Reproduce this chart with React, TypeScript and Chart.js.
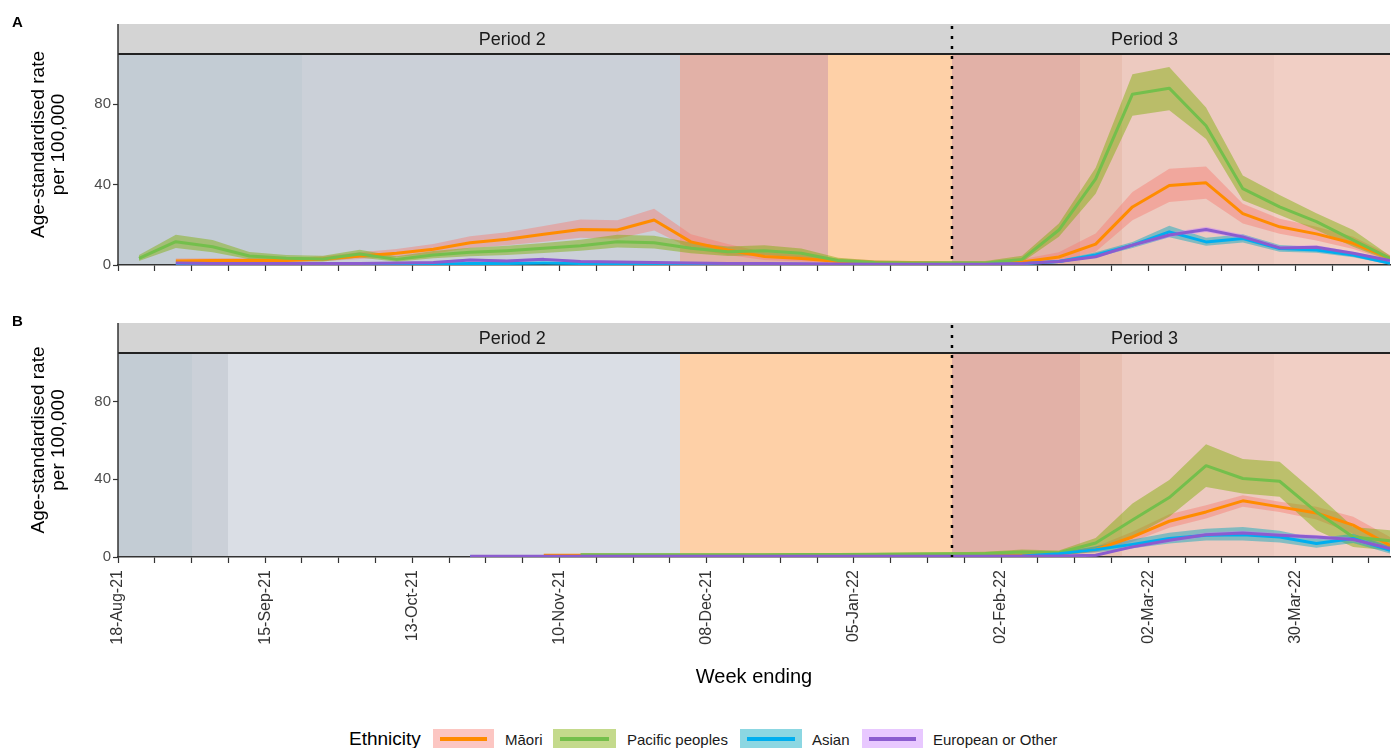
import React, { useEffect, useRef } from 'react';
import { Chart, registerables } from 'chart.js';

Chart.register(...registerables);

const FONT = "'Liberation Sans', Arial, Helvetica, sans-serif";
Chart.defaults.font.family = FONT;

// ---------- time axis ----------
const ORIGIN = '2021-08-18';
const LAST_WEEK = '2022-04-17';
const WEEK_ENDING = [
  '2021-08-22', '2021-08-29', '2021-09-05', '2021-09-12', '2021-09-19', '2021-09-26',
  '2021-10-03', '2021-10-10', '2021-10-17', '2021-10-24', '2021-10-31',
  '2021-11-07', '2021-11-14', '2021-11-21', '2021-11-28',
  '2021-12-05', '2021-12-12', '2021-12-19', '2021-12-26',
  '2022-01-02', '2022-01-09', '2022-01-16', '2022-01-23', '2022-01-30',
  '2022-02-06', '2022-02-13', '2022-02-20', '2022-02-27',
  '2022-03-06', '2022-03-13', '2022-03-20', '2022-03-27',
  '2022-04-03', '2022-04-10', '2022-04-17',
];
const TICK_LABELS = ['18-Aug-21', '15-Sep-21', '13-Oct-21', '10-Nov-21', '08-Dec-21', '05-Jan-22', '02-Feb-22', '02-Mar-22', '30-Mar-22'];
const Y_TICKS = [0, 40, 80];
const Y_MAX = 105;

// ---------- Panel A (rates) ----------
const maoriA = [null, 2.0, 2.2, 2.3, 2.2, 3.0, 4.5, 5.8, 7.8, 11.1, 12.8, 15.3, 17.7, 17.4, 22.4, 11.5, 7.5, 4.2, 3.2, 1.8, 1.3, 1.0, 0.8, 0.8, 1.5, 4.0, 10.4, 28.9, 39.6, 40.9, 25.6, 19.0, 15.5, 10.8, 3.3];
const maoriAHi = [null, 3.2, 3.4, 3.5, 3.4, 4.4, 6.3, 8.0, 10.4, 14.3, 16.3, 19.4, 22.6, 22.3, 28.0, 15.3, 10.4, 6.4, 5.0, 3.2, 2.4, 2.0, 1.7, 1.7, 2.8, 6.4, 15.7, 36.3, 47.9, 49.0, 30.5, 23.0, 19.0, 14.0, 5.0];
const maoriALo = [null, 1.1, 1.3, 1.4, 1.3, 1.9, 3.0, 4.0, 5.6, 8.4, 9.8, 11.6, 13.5, 13.1, 17.2, 8.2, 5.0, 2.5, 1.8, 0.8, 0.6, 0.4, 0.3, 0.3, 0.7, 2.2, 6.6, 22.3, 31.3, 33.0, 20.6, 15.5, 12.2, 8.0, 1.9];

const pacificA = [3.3, 11.6, 9.1, 4.5, 3.3, 3.0, 5.5, 2.8, 5.0, 6.3, 7.1, 8.3, 9.6, 11.6, 11.1, 8.3, 6.6, 7.1, 5.8, 2.2, 1.2, 1.0, 1.0, 1.0, 2.8, 17.4, 42.9, 85.0, 88.0, 69.3, 38.0, 28.9, 21.6, 12.4, 3.3];
const pacificAHi = [5.0, 15.0, 12.4, 6.5, 5.0, 4.6, 7.6, 4.3, 7.0, 8.6, 9.6, 11.0, 12.6, 15.0, 14.5, 11.2, 9.2, 9.8, 8.2, 3.6, 2.3, 2.0, 2.0, 2.0, 4.6, 20.7, 48.4, 94.9, 98.5, 78.4, 44.6, 34.8, 25.7, 17.4, 4.6];
const pacificALo = [2.0, 8.5, 6.3, 2.8, 1.9, 1.7, 3.7, 1.6, 3.3, 4.3, 5.0, 6.0, 7.1, 8.7, 8.2, 5.9, 4.5, 4.8, 3.8, 1.1, 0.5, 0.3, 0.3, 0.3, 1.4, 14.1, 35.5, 74.3, 77.0, 62.7, 32.2, 24.9, 17.4, 9.1, 2.0];

const asianA = [null, 0.3, 0.3, 0.3, 0.3, 0.3, 0.4, 0.4, 0.5, 0.7, 0.8, 1.0, 0.8, 0.6, 0.6, 0.5, 0.5, 0.4, 0.4, 0.3, 0.3, 0.3, 0.3, 0.3, 0.6, 1.7, 5.0, 9.9, 16.5, 11.5, 13.2, 8.2, 7.5, 5.0, 0.8];
const asianAHi = [null, 0.6, 0.6, 0.6, 0.6, 0.6, 0.7, 0.7, 0.9, 1.1, 1.2, 1.5, 1.2, 1.0, 1.0, 0.9, 0.9, 0.7, 0.7, 0.6, 0.6, 0.6, 0.6, 0.6, 1.0, 2.5, 6.3, 11.5, 19.5, 13.5, 15.3, 10.0, 9.0, 6.3, 1.5];
const asianALo = [null, 0.1, 0.1, 0.1, 0.1, 0.1, 0.2, 0.2, 0.2, 0.4, 0.5, 0.6, 0.5, 0.3, 0.3, 0.2, 0.2, 0.2, 0.2, 0.1, 0.1, 0.1, 0.1, 0.1, 0.3, 1.0, 3.8, 8.4, 13.8, 9.6, 11.2, 6.6, 6.1, 3.8, 0.3];

const europeanA = [null, 1.0, 0.8, 0.8, 0.7, 0.8, 0.8, 1.0, 1.3, 2.5, 2.0, 2.8, 1.8, 1.5, 1.2, 1.0, 0.8, 0.7, 0.6, 0.5, 0.4, 0.4, 0.4, 0.4, 0.8, 1.7, 4.1, 9.9, 14.9, 17.7, 14.0, 8.5, 8.8, 5.8, 2.2];
const europeanAHi = [null, 1.4, 1.1, 1.1, 1.0, 1.1, 1.1, 1.4, 1.8, 3.2, 2.6, 3.5, 2.4, 2.0, 1.6, 1.4, 1.1, 1.0, 0.9, 0.8, 0.6, 0.6, 0.6, 0.6, 1.1, 2.2, 4.7, 10.8, 16.0, 19.0, 15.2, 9.5, 9.8, 6.6, 2.8];
const europeanALo = [null, 0.6, 0.5, 0.5, 0.4, 0.5, 0.5, 0.6, 0.8, 1.8, 1.4, 2.1, 1.2, 1.0, 0.8, 0.6, 0.5, 0.4, 0.3, 0.2, 0.2, 0.2, 0.2, 0.2, 0.5, 1.2, 3.5, 9.0, 13.8, 16.4, 12.8, 7.5, 7.8, 5.0, 1.6];

// ---------- Panel B (rates) ----------
const maoriB = [null, null, null, null, null, null, null, null, null, null, null, 0.9, 0.9, 0.8, 0.8, 0.7, 0.7, 0.6, 0.8, 1.3, 0.6, 0.6, 0.7, 0.7, 0.9, 1.5, 3.8, 10.3, 18.4, 23.2, 28.9, 25.8, 22.7, 16.4, 6.0];
const maoriBHi = [null, null, null, null, null, null, null, null, null, null, null, 1.3, 1.3, 1.2, 1.2, 1.1, 1.1, 1.0, 1.2, 1.8, 1.0, 1.0, 1.1, 1.1, 1.4, 2.2, 5.3, 13.0, 22.0, 26.7, 31.8, 28.4, 25.8, 20.7, 10.3];
const maoriBLo = [null, null, null, null, null, null, null, null, null, null, null, 0.5, 0.5, 0.4, 0.4, 0.4, 0.4, 0.3, 0.4, 0.8, 0.3, 0.3, 0.4, 0.4, 0.5, 0.9, 2.5, 7.8, 15.1, 19.8, 25.8, 23.2, 19.3, 12.0, 2.6];

const pacificB = [null, null, null, null, null, null, null, null, null, null, null, null, 1.2, 1.2, 1.2, 1.2, 1.2, 1.2, 1.3, 1.3, 1.4, 1.5, 1.7, 1.8, 2.6, 2.2, 7.2, 19.0, 30.6, 47.0, 40.4, 39.0, 23.2, 10.3, 8.3];
const pacificBHi = [null, null, null, null, null, null, null, null, null, null, null, null, 1.9, 1.9, 1.9, 1.9, 1.9, 1.9, 2.0, 2.0, 2.1, 2.3, 2.5, 2.7, 3.8, 3.4, 9.8, 27.5, 39.6, 58.0, 50.4, 49.0, 32.7, 15.5, 13.8];
const pacificBLo = [null, null, null, null, null, null, null, null, null, null, null, null, 0.6, 0.6, 0.6, 0.6, 0.6, 0.6, 0.7, 0.7, 0.8, 0.8, 1.0, 1.1, 1.5, 1.2, 4.5, 10.3, 20.7, 36.0, 32.7, 31.0, 13.8, 5.2, 3.4];

const asianB = [null, null, null, null, null, null, null, null, null, 0.3, 0.3, 0.3, 0.3, 0.3, 0.3, 0.3, 0.3, 0.3, 0.3, 0.3, 0.3, 0.3, 0.3, 0.3, 0.5, 1.7, 3.8, 6.5, 9.5, 11.2, 11.5, 10.3, 6.9, 9.5, 3.4];
const asianBHi = [null, null, null, null, null, null, null, null, null, 0.5, 0.5, 0.5, 0.5, 0.5, 0.5, 0.5, 0.5, 0.5, 0.5, 0.5, 0.5, 0.5, 0.5, 0.5, 0.8, 2.5, 5.5, 9.0, 12.5, 14.5, 15.5, 13.5, 9.5, 12.0, 5.5];
const asianBLo = [null, null, null, null, null, null, null, null, null, 0.1, 0.1, 0.1, 0.1, 0.1, 0.1, 0.1, 0.1, 0.1, 0.1, 0.1, 0.1, 0.1, 0.1, 0.1, 0.3, 1.0, 2.5, 4.5, 7.0, 8.5, 8.5, 7.5, 4.8, 7.2, 1.8];

const europeanB = [null, null, null, null, null, null, null, null, null, 0.4, 0.4, 0.4, 0.4, 0.4, 0.4, 0.4, 0.4, 0.4, 0.4, 0.4, 0.4, 0.4, 0.4, 0.4, 0.4, 0.5, 0.9, 5.2, 8.6, 11.5, 12.4, 11.2, 10.3, 9.0, 4.3];
const europeanBHi = [null, null, null, null, null, null, null, null, null, 0.6, 0.6, 0.6, 0.6, 0.6, 0.6, 0.6, 0.6, 0.6, 0.6, 0.6, 0.6, 0.6, 0.6, 0.6, 0.6, 0.8, 1.3, 6.0, 9.6, 12.6, 13.5, 12.2, 11.3, 10.0, 5.0];
const europeanBLo = [null, null, null, null, null, null, null, null, null, 0.2, 0.2, 0.2, 0.2, 0.2, 0.2, 0.2, 0.2, 0.2, 0.2, 0.2, 0.2, 0.2, 0.2, 0.2, 0.2, 0.3, 0.6, 4.4, 7.6, 10.4, 11.3, 10.2, 9.3, 8.0, 3.6];

// ---------- restriction settings (shaded background) ----------
const LEVELS_A_START = ['2021-08-18', '2021-09-22', '2021-12-03', '2021-12-31', '2022-01-23T16', '2022-02-17', '2022-02-25', '2022-03-26'];
const LEVELS_A_NAME = ['Level 4', 'Level 3', 'Red', 'Orange', 'Red', 'Red phase 2', 'Red phase 3', 'Red phase 3b'];
const LEVELS_B_START = ['2021-08-18', '2021-09-01', '2021-09-08', '2021-12-03', '2022-01-23T16', '2022-02-17', '2022-02-25', '2022-03-26'];
const LEVELS_B_NAME = ['Level 4', 'Level 3', 'Level 2', 'Orange', 'Red', 'Red phase 2', 'Red phase 3', 'Red phase 3b'];
const LEVEL_COLOURS: Record<string, string> = {
  'Level 4': '#c3ccd4',
  'Level 3': '#cbd0d8',
  'Level 2': '#dadee5',
  'Red': '#e2b1a7',
  'Orange': '#fed0a7',
  'Red phase 2': '#e8bfb1',
  'Red phase 3': '#edcac0',
  'Red phase 3b': '#f1cfc5',
};
const PERIOD_LABELS = ['Period 2', 'Period 3'];
const PERIOD_CENTRES = ['2021-11-01', '2022-03-01T07'];
const PERIOD_DIVIDER = '2022-01-23T16';

// ---------- series styling ----------
const SERIES_NAMES = ['Māori', 'Pacific peoples', 'Asian', 'European or Other'];
const LINE_COLOURS = ['#FF8C00', '#74BF4C', '#00AEEF', '#8B5CCF'];
const BAND_COLOURS = ['rgba(248,118,109,0.42)', 'rgba(124,174,0,0.45)', 'rgba(0,166,190,0.45)', 'rgba(199,124,255,0.42)'];

function dayOf(s: string) {
  const [d, h] = s.split('T');
  return (Date.parse(d + 'T00:00:00Z') - Date.parse(ORIGIN + 'T00:00:00Z')) / 86400000 + (h ? Number(h) / 24 : 0);
}
const X_MAX = dayOf(LAST_WEEK);
const TICK_DAYS = WEEK_ENDING.map((_, i) => i * 7);
const STRIP_H = 30;

function buildDatasets(mids: any[], los: any[], his: any[]) {
  const pts = (arr: any[]) => arr.map((y, k) => ({ x: dayOf(WEEK_ENDING[k]), y }));
  const ds: any[] = [];
  mids.forEach((_, i) => {
    const idx = ds.length;
    ds.push({
      label: SERIES_NAMES[i] + ' upper', data: pts(his[i]), borderWidth: 0, borderColor: 'rgba(0,0,0,0)',
      backgroundColor: BAND_COLOURS[i], pointRadius: 0, fill: { target: idx + 1 }, order: 8 - i,
    });
    ds.push({
      label: SERIES_NAMES[i] + ' lower', data: pts(los[i]), borderWidth: 0, borderColor: 'rgba(0,0,0,0)',
      backgroundColor: 'rgba(0,0,0,0)', pointRadius: 0, fill: false, order: 8 - i,
    });
  });
  mids.forEach((m, i) => {
    ds.push({
      label: SERIES_NAMES[i], data: pts(m), borderColor: LINE_COLOURS[i], borderWidth: 3,
      pointRadius: 0, fill: false, borderJoinStyle: 'round', order: 4 - i,
    });
  });
  return ds;
}

const PANEL_A = {
  letter: 'A', canvasTop: 0, canvasHeight: 280, chartTop: 54, xAxisHeight: 15, showXLabels: false,
  levelStarts: LEVELS_A_START, levelNames: LEVELS_A_NAME,
  mids: [maoriA, pacificA, asianA, europeanA],
  los: [maoriALo, pacificALo, asianALo, europeanALo],
  his: [maoriAHi, pacificAHi, asianAHi, europeanAHi],
};
const PANEL_B = {
  letter: 'B', canvasTop: 290, canvasHeight: 420, chartTop: 63, xAxisHeight: 153, showXLabels: true,
  levelStarts: LEVELS_B_START, levelNames: LEVELS_B_NAME,
  mids: [maoriB, pacificB, asianB, europeanB],
  los: [maoriBLo, pacificBLo, asianBLo, europeanBLo],
  his: [maoriBHi, pacificBHi, asianBHi, europeanBHi],
};

function decorPlugin(spec: any) {
  return {
    id: 'decor' + spec.letter,
    beforeDraw(chart: any) {
      const { ctx, chartArea: ca } = chart;
      const x = chart.scales.x;
      ctx.save();
      spec.levelStarts.forEach((s: string, i: number) => {
        const from = dayOf(s);
        const to = i + 1 < spec.levelStarts.length ? dayOf(spec.levelStarts[i + 1]) : X_MAX;
        const x0 = Math.round(x.getPixelForValue(from));
        const x1 = Math.round(x.getPixelForValue(to));
        ctx.fillStyle = LEVEL_COLOURS[spec.levelNames[i]];
        ctx.fillRect(x0, ca.top, x1 - x0, ca.bottom - ca.top);
      });
      ctx.fillStyle = '#d4d4d4';
      ctx.fillRect(ca.left, ca.top - STRIP_H, ca.right - ca.left, STRIP_H);
      ctx.fillStyle = '#1a1a1a';
      ctx.font = `18px ${FONT}`;
      ctx.textAlign = 'center';
      ctx.textBaseline = 'alphabetic';
      PERIOD_LABELS.forEach((t, i) => {
        ctx.fillText(t, x.getPixelForValue(dayOf(PERIOD_CENTRES[i])), ca.top - STRIP_H + 20.5);
      });
      ctx.restore();
    },
    afterDraw(chart: any) {
      const { ctx, chartArea: ca } = chart;
      const x = chart.scales.x;
      ctx.save();
      ctx.strokeStyle = '#222';
      ctx.lineWidth = 2;
      ctx.beginPath();
      ctx.moveTo(ca.left, ca.top);
      ctx.lineTo(ca.right, ca.top);
      ctx.stroke();
      ctx.strokeStyle = '#333';
      ctx.lineWidth = 1.5;
      ctx.beginPath();
      ctx.moveTo(ca.left, ca.top - STRIP_H);
      ctx.lineTo(ca.left, ca.bottom + 0.75);
      ctx.stroke();
      const xd = x.getPixelForValue(dayOf(PERIOD_DIVIDER));
      ctx.strokeStyle = '#000';
      ctx.lineWidth = 2.5;
      ctx.setLineDash([3, 7]);
      ctx.beginPath();
      ctx.moveTo(xd, ca.top - STRIP_H + 2);
      ctx.lineTo(xd, ca.bottom);
      ctx.stroke();
      ctx.setLineDash([]);
      const yc = (ca.top - STRIP_H + ca.bottom) / 2;
      ctx.fillStyle = '#000';
      ctx.font = `19px ${FONT}`;
      ctx.textAlign = 'center';
      ctx.textBaseline = 'alphabetic';
      [['Age-standardised rate', 43.5], ['per 100,000', 63.5]].forEach(([t, bx]: any) => {
        ctx.save();
        ctx.translate(bx, yc);
        ctx.rotate(-Math.PI / 2);
        ctx.fillText(t, 0, 0);
        ctx.restore();
      });
      ctx.font = `bold 15px ${FONT}`;
      ctx.textAlign = 'left';
      ctx.fillText(spec.letter, 12, ca.top - STRIP_H + 2.5);
      ctx.restore();
    },
  };
}

function buildConfig(spec: any): any {
  return {
    type: 'line',
    data: { datasets: buildDatasets(spec.mids, spec.los, spec.his) },
    options: {
      responsive: false,
      animation: false,
      devicePixelRatio: 1,
      events: [],
      layout: { padding: { left: 0, right: 5, top: spec.chartTop, bottom: 0 } },
      plugins: { legend: { display: false }, tooltip: { enabled: false }, filler: { propagate: false } },
      scales: {
        x: {
          type: 'linear',
          min: 0,
          max: X_MAX,
          afterBuildTicks: (s: any) => { s.ticks = TICK_DAYS.map((v) => ({ value: v })); },
          afterFit: (s: any) => { s.height = spec.xAxisHeight; s.paddingLeft = 0; s.paddingRight = 0; },
          grid: { display: true, drawOnChartArea: false, drawTicks: true, tickLength: 6, tickColor: '#333', tickWidth: 1.2 },
          border: { display: true, color: '#333', width: 1.5 },
          ticks: {
            display: spec.showXLabels,
            autoSkip: false,
            minRotation: 90,
            maxRotation: 90,
            padding: 7,
            color: '#333',
            font: { family: FONT, size: 16 },
            callback: (v: any) => {
              const n = Math.round(Number(v));
              return n % 28 === 0 ? (TICK_LABELS[n / 28] ?? '') : '';
            },
          },
          title: spec.showXLabels
            ? { display: true, text: 'Week ending', color: '#000', font: { family: FONT, size: 20 }, padding: { top: 0, bottom: 21 } }
            : { display: false },
        },
        y: {
          min: 0,
          max: Y_MAX,
          afterBuildTicks: (s: any) => { s.ticks = Y_TICKS.map((v) => ({ value: v })); },
          afterFit: (s: any) => { s.width = 118; s.paddingTop = 0; s.paddingBottom = 0; },
          grid: { display: true, drawOnChartArea: false, drawTicks: true, tickLength: 5, tickColor: '#333', tickWidth: 1.2 },
          border: { display: false },
          ticks: { color: '#4d4d4d', padding: 2, font: { family: FONT, size: 15 } },
        },
      },
    },
    plugins: [decorPlugin(spec)],
  };
}

function Panel({ spec }: { spec: any }) {
  const ref = useRef<HTMLCanvasElement>(null);
  useEffect(() => {
    const chart = new Chart(ref.current as HTMLCanvasElement, buildConfig(spec));
    return () => chart.destroy();
  }, [spec]);
  return (
    <canvas
      ref={ref}
      width={1395}
      height={spec.canvasHeight}
      style={{ position: 'absolute', left: 0, top: spec.canvasTop, width: 1395, height: spec.canvasHeight, display: 'block' }}
    />
  );
}

const LEGEND_BOX_LEFT = [433, 553, 740, 862];
const LEGEND_BOX_WIDTH = [61, 63, 62, 61];
const LEGEND_TEXT_LEFT = [505, 627, 812, 933];

function Legend() {
  return (
    <>
      <div style={{ position: 'absolute', left: 349, top: 729, fontSize: 19, lineHeight: '19px', color: '#000', whiteSpace: 'nowrap' }}>Ethnicity</div>
      {SERIES_NAMES.map((name, i) => (
        <React.Fragment key={name}>
          <div style={{ position: 'absolute', left: LEGEND_BOX_LEFT[i], top: 729, width: LEGEND_BOX_WIDTH[i], height: 20, background: BAND_COLOURS[i] }}>
            <div style={{ position: 'absolute', left: 7, right: 7, top: 8.25, height: 3.5, background: LINE_COLOURS[i] }} />
          </div>
          <div style={{ position: 'absolute', left: LEGEND_TEXT_LEFT[i], top: 732.3, fontSize: 15, lineHeight: '15px', color: '#1a1a1a', whiteSpace: 'nowrap' }}>{name}</div>
        </React.Fragment>
      ))}
    </>
  );
}

export default function App() {
  return (
    <div style={{ position: 'absolute', left: 0, top: 0, width: 1395, height: 748, background: '#fff', overflow: 'hidden', fontFamily: FONT }}>
      <Panel spec={PANEL_A} />
      <Panel spec={PANEL_B} />
      <Legend />
    </div>
  );
}
